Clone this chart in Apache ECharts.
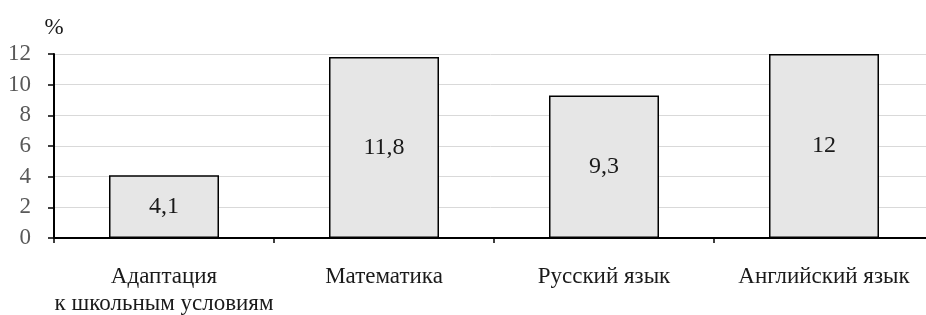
<!DOCTYPE html>
<html>
<head>
<meta charset="utf-8">
<title>Chart</title>
<script src="https://cdn.jsdelivr.net/npm/echarts@6/dist/echarts.min.js"></script>
<style>
    html, body { margin: 0; padding: 0; background: #fff; overflow: hidden; }
    #chart { width: 926px; height: 315px; }
</style>
</head>
<body>
<div id="chart"></div>
<script>
// данные
var categories = ['Адаптация\nк школьным условиям', 'Математика', 'Русский язык', 'Английский язык'];
var values = [4.1, 11.8, 9.3, 12];
var yTicks = { min: 0, max: 12, step: 2 };

var serif = '"Liberation Serif", "DejaVu Serif", serif';

var chart = echarts.init(document.getElementById('chart'));
chart.setOption({
    animation: false,
    // ось X уходит за правый край картинки
    grid: { left: 54, top: 54, bottom: 77, width: 880, outerBoundsMode: 'none', containLabel: false },
    xAxis: {
        type: 'category',
        data: categories,
        axisLine: { lineStyle: { color: '#000', width: 2 } },
        axisTick: { show: true, length: 5, lineStyle: { color: '#000', width: 1.5 } },
        axisLabel: {
            color: '#1a1a1a', fontFamily: serif, fontSize: 23,
            lineHeight: 27, margin: 25, interval: 0
        },
        splitLine: { show: false }
    },
    yAxis: {
        type: 'value',
        min: yTicks.min, max: yTicks.max, interval: yTicks.step,
        name: '%',
        nameLocation: 'end',
        nameGap: 15,
        nameTextStyle: { color: '#1a1a1a', fontFamily: serif, fontSize: 23 },
        axisLine: { show: true, lineStyle: { color: '#000', width: 2 } },
        axisTick: { show: true, length: 6, lineStyle: { color: '#000', width: 1.5 } },
        axisLabel: { color: '#595959', fontFamily: serif, fontSize: 23, margin: 23 },
        splitLine: { lineStyle: { color: '#d9d9d9', width: 1 } }
    },
    series: [{
        type: 'bar',
        data: values,
        barWidth: '50%',
        itemStyle: { color: '#e6e6e6', borderColor: '#000', borderWidth: 1.5 },
        label: {
            show: true, position: 'inside',
            color: '#1a1a1a', fontFamily: serif, fontSize: 24,
            formatter: function (p) { return String(p.value).replace('.', ','); }
        }
    }]
});
</script>
</body>
</html>
